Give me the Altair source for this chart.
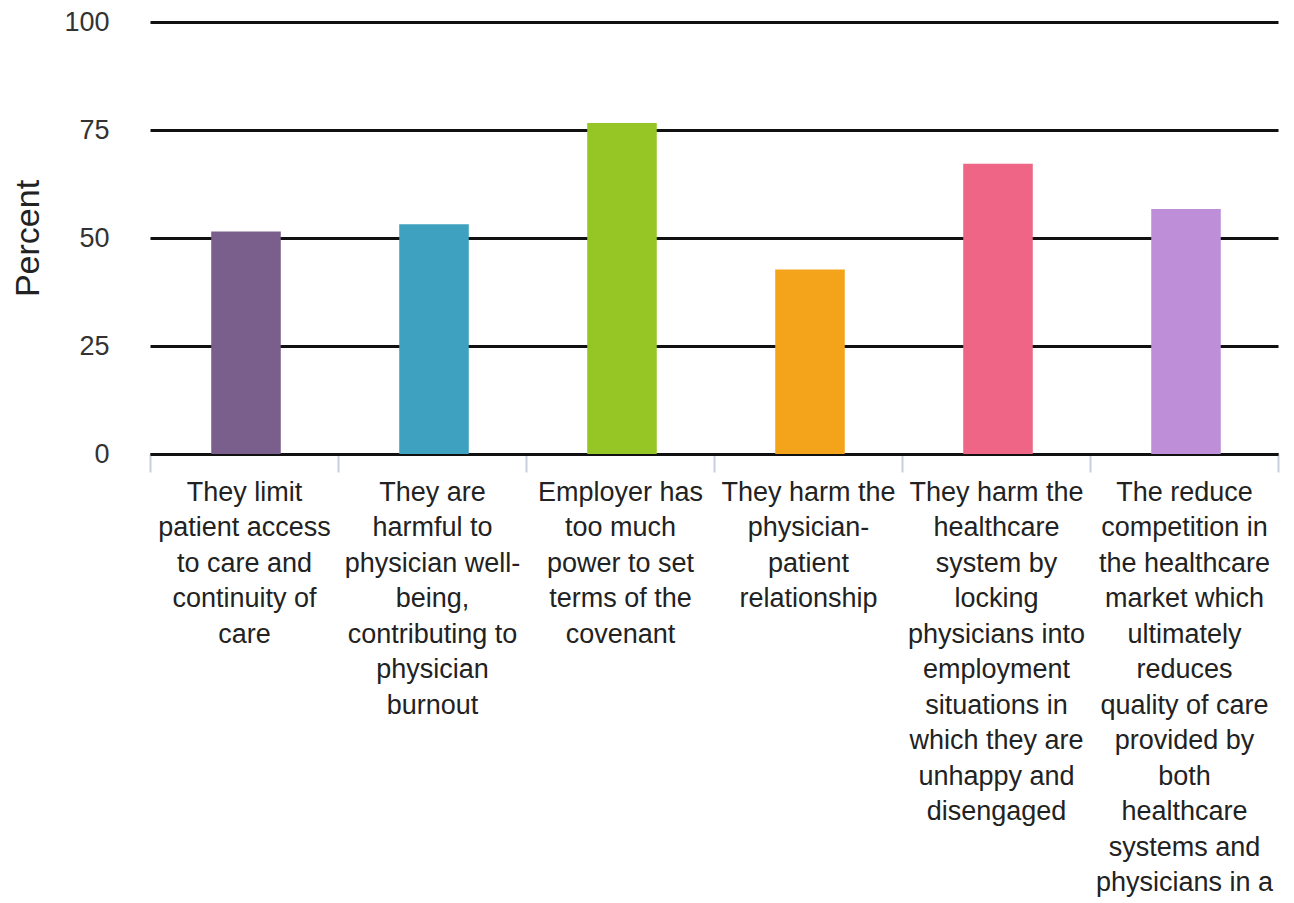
import altair as alt
import pandas as pd

categories = [
    "They limit|patient access|to care and|continuity of|care",
    "They are|harmful to|physician well-|being,|contributing to|physician|burnout",
    "Employer has|too much|power to set|terms of the|covenant",
    "They harm the|physician-|patient|relationship",
    "They harm the|healthcare|system by|locking|physicians into|employment|situations in|which they are|unhappy and|disengaged",
    "The reduce|competition in|the healthcare|market which|ultimately|reduces|quality of care|provided by|both|healthcare|systems and|physicians in a",
]
values = [51.5, 53.2, 76.6, 42.7, 67.2, 56.7]
colors = ["#7a5e8c", "#3da1bf", "#95c626", "#f3a41b", "#ef6585", "#be8fd8"]
y_ticks = [0, 25, 50, 75, 100]

df = pd.DataFrame({"reason": categories, "percent": values, "color": colors})

chart = (
    alt.Chart(df)
    .mark_bar(width=alt.RelativeBandSize(0.37), xOffset=2)
    .encode(
        x=alt.X(
            "reason:N",
            sort=categories,
            scale=alt.Scale(paddingInner=0, paddingOuter=0),
            axis=alt.Axis(
                title=None,
                labelAngle=0,
                labelExpr="split(datum.label, '|')",
                labelFontSize=27,
                labelLineHeight=35.5,
                labelColor="#222222",
                labelLimit=0,
                labelPadding=7,
                labelBaseline="top",
                tickBand="extent",
                tickColor="#c8cede",
                tickWidth=2,
                tickSize=18,
                domainColor="#111111",
                domainWidth=3,
                grid=False,
            ),
        ),
        y=alt.Y(
            "percent:Q",
            scale=alt.Scale(domain=[0, 100]),
            axis=alt.Axis(
                title="Percent",
                titleFontSize=34,
                titleFontWeight="normal",
                titleColor="#222222",
                titlePadding=18,
                values=y_ticks,
                labelFontSize=27,
                labelColor="#333333",
                labelPadding=41,
                domain=False,
                ticks=False,
                gridColor="#111111",
                gridWidth=3,
            ),
        ),
        color=alt.Color("color:N", scale=None),
    )
    .properties(
        width=1128,
        height=432,
        autosize=alt.AutoSizeParams(type="none"),
        padding={"left": 142, "top": 14, "right": 8, "bottom": 470},
    )
    .configure(font="Liberation Sans")
    .configure_view(stroke=None)
)

chart.save("out.html", embed_options={"renderer": "svg", "actions": False})
